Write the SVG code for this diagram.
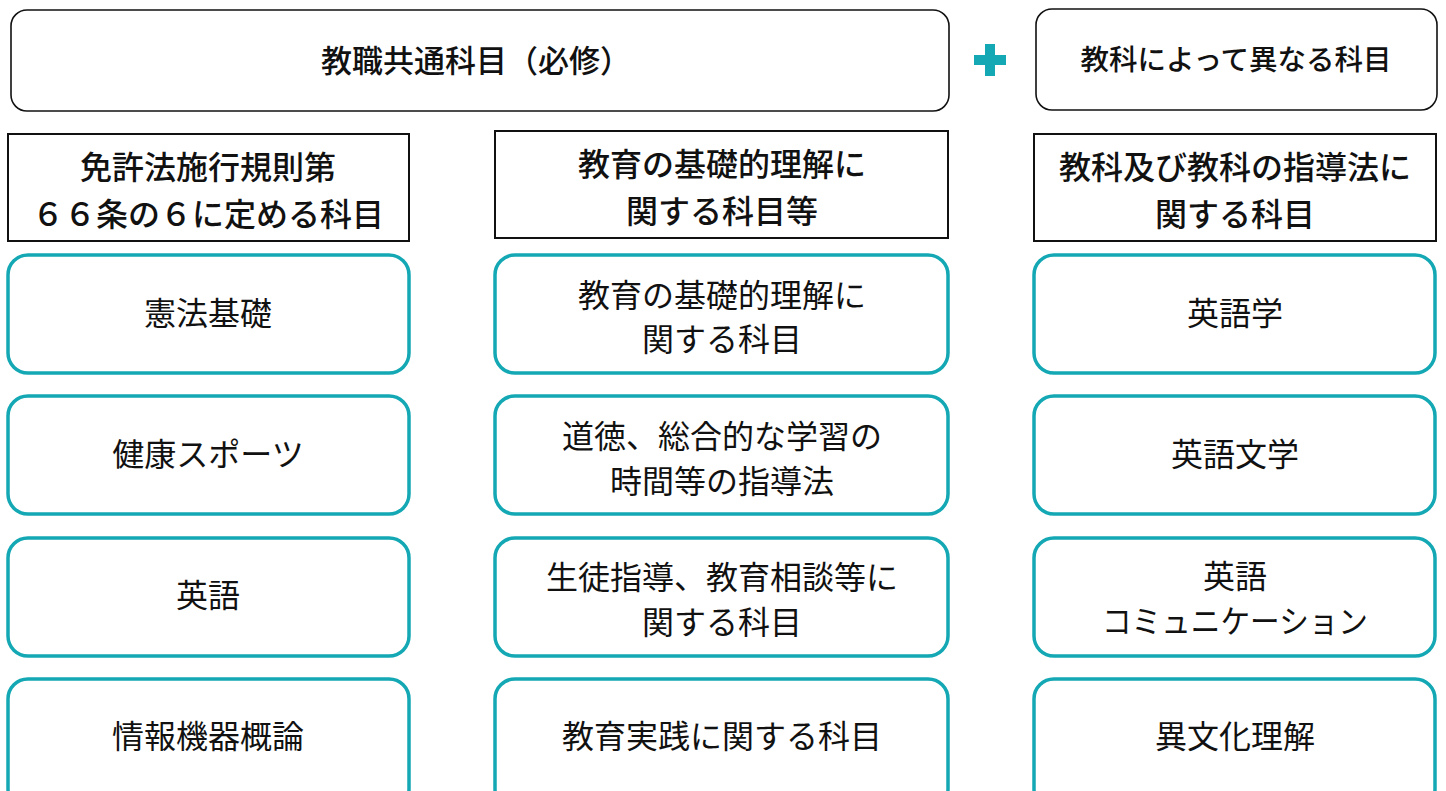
<svg xmlns="http://www.w3.org/2000/svg" width="1446" height="791" viewBox="0 0 1446 791">
<style>
text{font-family:"Noto Sans CJK JP","Noto Sans CJK SC",sans-serif;fill:#111;text-anchor:middle;dominant-baseline:central}
.top{fill:#fff;stroke:#111;stroke-width:1.6}
.hdr{fill:#fff;stroke:#111;stroke-width:2}
.box{fill:#fff;stroke:#14a8b4;stroke-width:3.5}
.tt{font-size:31px;font-weight:500}
.ht{font-size:32px;font-weight:500}
.bt{font-size:32px;font-weight:400}
</style>
<rect width="1446" height="791" fill="#fff"/>
<g id="top-common"><rect class="top" x="11" y="10" width="938" height="101" rx="16"/><text class="tt" x="476" y="58">教職共通科目（必修）</text></g>
<g id="plus"><rect x="985" y="44" width="10" height="32" fill="#14a8b4"/><rect x="974" y="55" width="32" height="10" fill="#14a8b4"/></g>
<g id="top-subject"><rect class="top" x="1036" y="9" width="401" height="101" rx="16"/><text class="tt" x="1236" y="57" style="font-size:28.5px">教科によって異なる科目</text></g>

<g id="hdr1"><rect class="hdr" x="8" y="134" width="401" height="107"/><text class="ht" x="208" y="165">免許法施行規則第</text><text class="ht" x="208" y="212">６６条の６に定める科目</text></g>
<g id="hdr2"><rect class="hdr" x="495" y="131" width="453" height="107"/><text class="ht" x="722" y="162">教育の基礎的理解に</text><text class="ht" x="722" y="209">関する科目等</text></g>
<g id="hdr3"><rect class="hdr" x="1034" y="134" width="402" height="107"/><text class="ht" x="1235" y="165">教科及び教科の指導法に</text><text class="ht" x="1235" y="212">関する科目</text></g>

<g id="c1r1"><rect class="box" x="8" y="255" width="401" height="118" rx="20"/><text class="bt" x="208" y="311">憲法基礎</text></g>
<g id="c1r2"><rect class="box" x="8" y="396" width="401" height="118" rx="20"/><text class="bt" x="208" y="452">健康スポーツ</text></g>
<g id="c1r3"><rect class="box" x="8" y="538" width="401" height="118" rx="20"/><text class="bt" x="208" y="593">英語</text></g>
<g id="c1r4"><rect class="box" x="8" y="679" width="401" height="130" rx="20"/><text class="bt" x="208" y="734">情報機器概論</text></g>

<g id="c2r1"><rect class="box" x="495" y="255" width="453" height="118" rx="20"/><text class="bt" x="722" y="293">教育の基礎的理解に</text><text class="bt" x="722" y="337">関する科目</text></g>
<g id="c2r2"><rect class="box" x="495" y="396" width="453" height="118" rx="20"/><text class="bt" x="722" y="434">道徳、総合的な学習の</text><text class="bt" x="722" y="479">時間等の指導法</text></g>
<g id="c2r3"><rect class="box" x="495" y="538" width="453" height="118" rx="20"/><text class="bt" x="722" y="575">生徒指導、教育相談等に</text><text class="bt" x="722" y="620">関する科目</text></g>
<g id="c2r4"><rect class="box" x="495" y="679" width="453" height="130" rx="20"/><text class="bt" x="722" y="734">教育実践に関する科目</text></g>

<g id="c3r1"><rect class="box" x="1034" y="255" width="401" height="118" rx="20"/><text class="bt" x="1235" y="311">英語学</text></g>
<g id="c3r2"><rect class="box" x="1034" y="396" width="401" height="118" rx="20"/><text class="bt" x="1235" y="452">英語文学</text></g>
<g id="c3r3"><rect class="box" x="1034" y="538" width="401" height="118" rx="20"/><text class="bt" x="1235" y="574">英語</text><text class="bt" x="1235" y="619" textLength="266" lengthAdjust="spacingAndGlyphs">コミュニケーション</text></g>
<g id="c3r4"><rect class="box" x="1034" y="679" width="401" height="130" rx="20"/><text class="bt" x="1235" y="734">異文化理解</text></g>
<g id="connectors"/>
</svg>
